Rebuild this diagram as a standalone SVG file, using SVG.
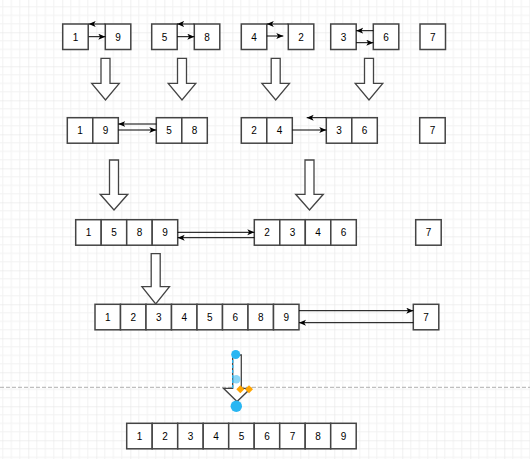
<svg xmlns="http://www.w3.org/2000/svg" width="530" height="459" viewBox="0 0 530 459">
<defs>
<pattern id="grid" width="34" height="34" patternUnits="userSpaceOnUse" x="28.3" y="32.3">
<path d="M8.5,0V34M17,0V34M25.5,0V34M0,8.5H34M0,17H34M0,25.5H34" stroke="#f2f2f2" stroke-width="1" fill="none"/>
<path d="M0,0V34M0,0H34" stroke="#e2e2e2" stroke-width="1" fill="none"/>
</pattern>
<marker id="arr" markerUnits="userSpaceOnUse" markerWidth="8" markerHeight="7" refX="7" refY="3" orient="auto">
<path d="M0,0 L7,3 L0,6 L1.8,3 Z" fill="#000"/>
</marker>
<style>
.b{fill:#fff;stroke:#444;stroke-width:1.5}
.t{font-family:"Liberation Sans",Arial,sans-serif;font-size:10px;fill:#000;text-anchor:middle;dominant-baseline:central}
.c{fill:none;stroke:#000;stroke-width:1;marker-end:url(#arr)}
.ba{fill:#fff;stroke:#444;stroke-width:1.3}
.h{fill:#29b6f2}
.d{fill:#ffa500}
</style>
</defs>
<rect width="530" height="459" fill="#fff"/>
<rect width="530" height="459" fill="url(#grid)"/>
<line x1="0" y1="387.3" x2="530" y2="387.3" stroke="#b0b0b0" stroke-width="1" stroke-dasharray="4 2"/>

<g id="row1">
<g id="n1a"><rect class="b" x="62.7" y="24" width="25.5" height="25.5"/><text class="t" x="75.5" y="37">1</text></g>
<g id="n9a"><rect class="b" x="105.3" y="24" width="25.5" height="25.5"/><text class="t" x="118" y="37">9</text></g>
<g id="n5a"><rect class="b" x="151.7" y="24" width="25.5" height="25.5"/><text class="t" x="164.5" y="37">5</text></g>
<g id="n8a"><rect class="b" x="194.3" y="24" width="25.5" height="25.5"/><text class="t" x="207" y="37">8</text></g>
<g id="n4a"><rect class="b" x="241.3" y="24" width="25.5" height="25.5"/><text class="t" x="254" y="37">4</text></g>
<g id="n2a"><rect class="b" x="288.3" y="24" width="25.5" height="25.5"/><text class="t" x="301" y="37">2</text></g>
<g id="n3a"><rect class="b" x="330.7" y="24" width="25.5" height="25.5"/><text class="t" x="343.5" y="37">3</text></g>
<g id="n6a"><rect class="b" x="373.3" y="24" width="25.5" height="25.5"/><text class="t" x="386" y="37">6</text></g>
<g id="n7a"><rect class="b" x="420" y="24" width="25.5" height="25.5"/><text class="t" x="432.8" y="37">7</text></g>
</g>

<g id="row2">
<g id="n19"><rect class="b" x="67.3" y="117.7" width="25.5" height="25.5"/><rect class="b" x="92.8" y="117.7" width="25.5" height="25.5"/><text class="t" x="80" y="130.5">1</text><text class="t" x="105.5" y="130.5">9</text></g>
<g id="n58"><rect class="b" x="156.3" y="117.7" width="25.5" height="25.5"/><rect class="b" x="181.8" y="117.7" width="25.5" height="25.5"/><text class="t" x="169" y="130.5">5</text><text class="t" x="194.5" y="130.5">8</text></g>
<g id="n24"><rect class="b" x="241.3" y="117.7" width="25.5" height="25.5"/><rect class="b" x="266.8" y="117.7" width="25.5" height="25.5"/><text class="t" x="254" y="130.5">2</text><text class="t" x="279.5" y="130.5">4</text></g>
<g id="n36"><rect class="b" x="326.3" y="117.7" width="25.5" height="25.5"/><rect class="b" x="351.8" y="117.7" width="25.5" height="25.5"/><text class="t" x="339" y="130.5">3</text><text class="t" x="364.5" y="130.5">6</text></g>
<g id="n7b"><rect class="b" x="419.7" y="117.7" width="25.5" height="25.5"/><text class="t" x="432.5" y="130.5">7</text></g>
</g>

<g id="row3">
<g id="n1589"><rect class="b" x="75.7" y="219.7" width="25.5" height="25.5"/><rect class="b" x="101.2" y="219.7" width="25.5" height="25.5"/><rect class="b" x="126.7" y="219.7" width="25.5" height="25.5"/><rect class="b" x="152.2" y="219.7" width="25.5" height="25.5"/>
<text class="t" x="88.5" y="232.5">1</text><text class="t" x="114" y="232.5">5</text><text class="t" x="139.5" y="232.5">8</text><text class="t" x="165" y="232.5">9</text></g>
<g id="n2346"><rect class="b" x="254.3" y="219.7" width="25.5" height="25.5"/><rect class="b" x="279.8" y="219.7" width="25.5" height="25.5"/><rect class="b" x="305.3" y="219.7" width="25.5" height="25.5"/><rect class="b" x="330.8" y="219.7" width="25.5" height="25.5"/>
<text class="t" x="267" y="232.5">2</text><text class="t" x="292.5" y="232.5">3</text><text class="t" x="318" y="232.5">4</text><text class="t" x="343.5" y="232.5">6</text></g>
<g id="n7c"><rect class="b" x="415.7" y="219.7" width="25.5" height="25.5"/><text class="t" x="428.5" y="232.5">7</text></g>
</g>

<g id="row4">
<g id="n12345689">
<rect class="b" x="95" y="304.3" width="25.5" height="25.5"/><rect class="b" x="120.5" y="304.3" width="25.5" height="25.5"/><rect class="b" x="146" y="304.3" width="25.5" height="25.5"/><rect class="b" x="171.5" y="304.3" width="25.5" height="25.5"/><rect class="b" x="197" y="304.3" width="25.5" height="25.5"/><rect class="b" x="222.5" y="304.3" width="25.5" height="25.5"/><rect class="b" x="248" y="304.3" width="25.5" height="25.5"/><rect class="b" x="273.5" y="304.3" width="25.5" height="25.5"/>
<text class="t" x="107.8" y="317">1</text><text class="t" x="133.3" y="317">2</text><text class="t" x="158.8" y="317">3</text><text class="t" x="184.3" y="317">4</text><text class="t" x="209.8" y="317">5</text><text class="t" x="235.3" y="317">6</text><text class="t" x="260.8" y="317">8</text><text class="t" x="286.3" y="317">9</text>
</g>
<g id="n7d"><rect class="b" x="413.3" y="304.3" width="25.5" height="25.5"/><text class="t" x="426" y="317">7</text></g>
</g>

<g id="row5">
<g id="nsorted">
<rect class="b" x="126.7" y="423.3" width="25.5" height="25.5"/><rect class="b" x="152.2" y="423.3" width="25.5" height="25.5"/><rect class="b" x="177.7" y="423.3" width="25.5" height="25.5"/><rect class="b" x="203.2" y="423.3" width="25.5" height="25.5"/><rect class="b" x="228.7" y="423.3" width="25.5" height="25.5"/><rect class="b" x="254.2" y="423.3" width="25.5" height="25.5"/><rect class="b" x="279.7" y="423.3" width="25.5" height="25.5"/><rect class="b" x="305.2" y="423.3" width="25.5" height="25.5"/><rect class="b" x="330.7" y="423.3" width="25.5" height="25.5"/>
<text class="t" x="139.5" y="436">1</text><text class="t" x="165" y="436">2</text><text class="t" x="190.5" y="436">3</text><text class="t" x="216" y="436">4</text><text class="t" x="241.5" y="436">5</text><text class="t" x="267" y="436">6</text><text class="t" x="292.5" y="436">7</text><text class="t" x="318" y="436">8</text><text class="t" x="343.5" y="436">9</text>
</g>
</g>

<g id="blockarrows">
<path class="ba" d="M101,58.3H110V83.3H119.3L105.5,100L91.7,83.3H101Z"/>
<path class="ba" d="M177.5,58.3H186.5V83.3H195.8L182,100L168.2,83.3H177.5Z"/>
<path class="ba" d="M271.2,58.3H280.2V83.3H289.5L275.7,100L261.9,83.3H271.2Z"/>
<path class="ba" d="M364.5,58.3H373.5V83.3H382.8L369,100L355.2,83.3H364.5Z"/>
<path class="ba" d="M109.5,160H118.5V194.3H127.8L114,210L100.2,194.3H109.5Z"/>
<path class="ba" d="M305,160H314V194.3H323.3L309.5,210L295.7,194.3H305Z"/>
<path class="ba" d="M151.2,253.7H160.2V286.7H169.5L155.7,304L141.9,286.7H151.2Z"/>
</g>

<g id="connectors">
<line class="c" x1="105.3" y1="24" x2="88.7" y2="24"/>
<line class="c" x1="88.7" y1="36.7" x2="105.3" y2="36.7"/>
<line class="c" x1="194.3" y1="24" x2="177.2" y2="24"/>
<line class="c" x1="177.2" y1="36.7" x2="194.3" y2="36.7"/>
<line class="c" x1="288.3" y1="24" x2="266.8" y2="24"/>
<line class="c" x1="266.8" y1="36" x2="283.3" y2="36"/>
<line class="c" x1="373.3" y1="30.7" x2="356.2" y2="30.7"/>
<line class="c" x1="356.2" y1="42.7" x2="373.3" y2="42.7"/>
<line class="c" x1="156.3" y1="124" x2="118.3" y2="124" stroke-width="1.5"/>
<line class="c" x1="118.3" y1="130" x2="156.3" y2="130"/>
<line class="c" x1="292.3" y1="130" x2="326.3" y2="130"/>
<line class="c" x1="326.3" y1="117.7" x2="306.7" y2="117.7"/>
<line class="c" x1="177.7" y1="232.3" x2="254.3" y2="232.3"/>
<line class="c" x1="254.3" y1="237.7" x2="177.7" y2="237.7"/>
<line class="c" x1="299" y1="310.7" x2="413.3" y2="310.7"/>
<line class="c" x1="413.3" y1="322.7" x2="299" y2="322.7"/>
</g>

<g id="selected-arrow">
<path class="ba" d="M232.7,355H241.3V388.3H250.8L237,401.5L223.5,388.3H232.7Z"/>
<line x1="232.7" y1="355" x2="232.7" y2="388.3" stroke="#29b6f2" stroke-width="1.3" stroke-dasharray="3 2"/>
<circle class="h" cx="235.7" cy="354.5" r="4.5"/>
<circle class="h" cx="236.3" cy="379.3" r="4.2" opacity="0.55"/>
<circle class="h" cx="236.3" cy="406.3" r="5.7"/>
<path class="d" d="M240.3,385.3L244.3,389.3L240.3,393.3L236.3,389.3Z"/>
<path class="d" d="M249,385.3L253,389.3L249,393.3L245,389.3Z"/>
</g>
</svg>
